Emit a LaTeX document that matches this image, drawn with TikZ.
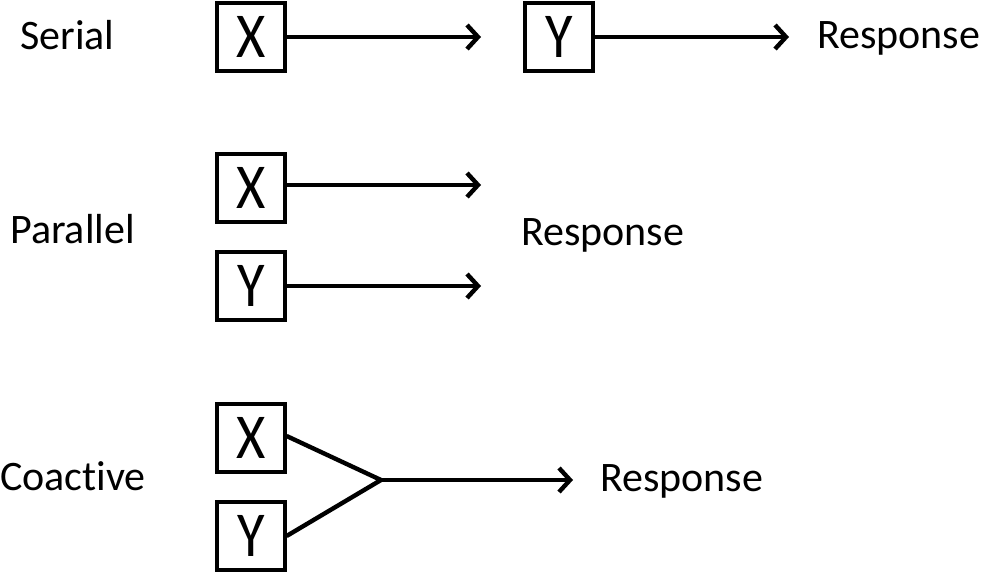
\documentclass[tikz,border=0pt]{standalone}
\usepackage{fontspec}
\setmainfont[Ligatures=NoCommon]{Carlito}
\usetikzlibrary{arrows.meta}
\tikzset{
  varbox/.style={draw, line width=3.2pt, minimum width=68pt, minimum height=68pt, inner sep=0pt,
    font=\fontsize{64}{64}\selectfont},
  lbl/.style={anchor=base west, inner sep=0pt, font=\fontsize{42}{42}\selectfont},
  conn/.style={line width=4.4pt},
  arr/.style={conn, -{Straight Barb[length=11pt,width=24pt,line width=4.4pt]}},
}
\newcommand{\vtxt}[1]{\scalebox{0.88}[1]{#1}}
\begin{document}
\begin{tikzpicture}[x=1pt,y=-1pt]
\useasboundingbox (0,0) rectangle (984,573);
% Serial
\node[lbl] (serial) at (20,49) {Serial};
\node[varbox] (sx) at (251,37) {\vtxt{X}};
\node[varbox] (sy) at (559,37) {\vtxt{Y}};
\node[lbl] (sresp) at (817,48) {Response};
\coordinate (sxend) at (481,37);
\coordinate (syend) at (789,37);
\draw[arr] (sx.east) -- (sxend);
\draw[arr] (sy.east) -- (syend);
% Parallel
\node[lbl] (parallel) at (10,243) {Parallel};
\node[varbox] (px) at (251,188) {\vtxt{X}};
\node[varbox] (py) at (251,286) {\vtxt{Y}};
\node[lbl] (presp) at (521,245) {Response};
\coordinate (pxend) at (481,185);
\coordinate (pyend) at (481,286);
\draw[arr] (px.east |- pxend) -- (pxend);
\draw[arr] (py.east) -- (pyend);
% Coactive
\node[lbl] (coactive) at (0,490) {Coactive};
\node[varbox] (cx) at (251,438) {\vtxt{X}};
\node[varbox] (cy) at (251,536) {\vtxt{Y}};
\node[lbl] (cresp) at (600,491) {Response};
\coordinate (junc) at (381,480);
\coordinate (cend) at (573,480);
\draw[conn, line join=miter] (cx.east |- 0,436) -- (junc) -- (cy.east |- 0,536);
\draw[arr] (junc) -- (cend);
\end{tikzpicture}
\end{document}
